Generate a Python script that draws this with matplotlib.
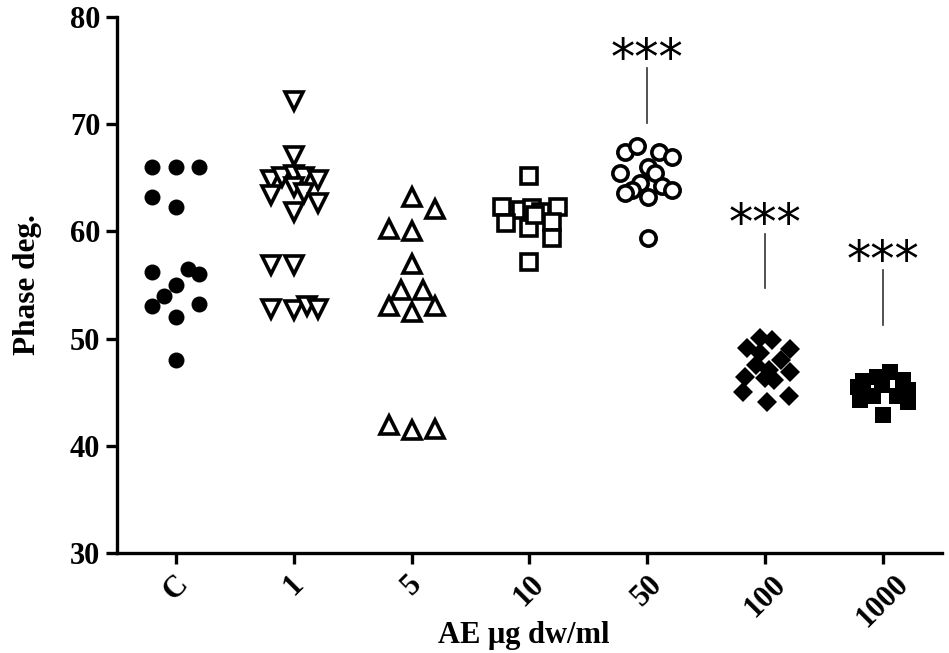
import matplotlib
matplotlib.use("Agg")
import matplotlib.pyplot as plt

categories = ["C", "1", "5", "10", "50", "100", "1000"]

# x offset (in category widths) and value for every dot
c_dx = [-0.2, 0.0, 0.2, -0.2, 0.0, -0.2, 0.1, 0.2, 0.0, -0.1, -0.2, 0.2, 0.0, 0.0]
c_val = [66.0, 66.0, 66.0, 63.2, 62.3, 56.2, 56.5, 56.0, 55.0, 54.0, 53.0, 53.2, 52.0, 48.0]

d1_dx = [0.0, 0.0, -0.19, -0.1, 0.0, 0.09, 0.21, -0.19, 0.0, 0.09, 0.21, 0.0,
         -0.19, 0.0, -0.19, 0.0, 0.11, 0.21]
d1_val = [72.2, 67.0, 64.8, 65.1, 65.3, 65.1, 64.8, 63.4, 64.1, 63.6, 62.6, 61.8,
          56.9, 56.9, 52.8, 52.7, 53.0, 52.8]

d5_dx = [0.0, 0.2, -0.19, 0.0, 0.0, -0.09, 0.1, -0.19, 0.0, 0.2, -0.19, 0.0, 0.2]
d5_val = [63.2, 62.1, 60.2, 60.0, 57.0, 54.5, 54.5, 53.0, 52.5, 53.0, 41.9, 41.5, 41.6]

d10_dx = [0.0, -0.23, -0.07, 0.02, 0.1, 0.24, -0.2, 0.0, 0.19, 0.19, 0.0, 0.05]
d10_val = [65.2, 62.3, 62.0, 62.2, 61.8, 62.3, 60.8, 60.3, 60.9, 59.4, 57.1, 61.5]

d50_dx = [-0.19, -0.09, 0.1, 0.21, 0.01, -0.23, 0.07, -0.06, -0.13, -0.19, 0.13,
          0.21, 0.01, 0.01]
d50_val = [67.4, 68.0, 67.4, 66.9, 66.0, 65.4, 65.4, 64.5, 63.9, 63.6, 64.2, 63.9,
           63.2, 59.4]

d100_dx = [-0.04, -0.15, 0.06, 0.21, -0.04, 0.14, -0.08, 0.03, 0.21, -0.17, 0.0,
           0.08, -0.19, 0.2, 0.02]
d100_val = [50.1, 49.1, 49.9, 49.0, 48.7, 48.0, 47.5, 47.1, 46.9, 46.4, 46.3, 46.1,
            45.0, 44.6, 44.1]

d1000_dx = [0.06, -0.05, 0.17, -0.17, -0.21, -0.01, 0.21, -0.19, -0.08, 0.12, 0.21, 0.0]
d1000_val = [46.9, 46.4, 46.1, 46.0, 45.5, 45.7, 45.2, 44.3, 44.6, 44.6, 44.1, 42.9]

offsets = [c_dx, d1_dx, d5_dx, d10_dx, d50_dx, d100_dx, d1000_dx]
values = [c_val, d1_val, d5_val, d10_val, d50_val, d100_val, d1000_val]

# significance marks: category index, line bottom, line top
sig_idx = [4, 5, 6]
sig_low = [70.1, 54.7, 51.3]
sig_high = [75.2, 59.8, 56.4]

styles = [
    dict(marker="o", ms=11.5, mfc="black", mec="black", mew=0),
    dict(marker="v", ms=13.5, mfc="white", mec="black", mew=2.6),
    dict(marker="^", ms=13.5, mfc="white", mec="black", mew=2.6),
    dict(marker="s", ms=11, mfc="white", mec="black", mew=2.6),
    dict(marker="o", ms=11, mfc="white", mec="black", mew=2.6),
    dict(marker="D", ms=10.5, mfc="black", mec="black", mew=0),
    dict(marker="s", ms=11.5, mfc="black", mec="black", mew=0),
]

serif = ["Liberation Serif", "DejaVu Serif"]

fig = plt.figure(figsize=(9.49, 6.53), dpi=100)
ax = fig.add_axes([0.1233, 0.1531, 0.869, 0.821])

for i, (dx, vals) in enumerate(zip(offsets, values)):
    xs = [i + d for d in dx]
    ax.plot(xs, vals, linestyle="none", **styles[i])

for i, lo, hi in zip(sig_idx, sig_low, sig_high):
    ax.plot([i, i], [lo, hi], color="#333333", lw=1.2)
    ax.annotate("***", xy=(i, hi), xytext=(0, -4), textcoords="offset points",
                ha="center", va="baseline", fontsize=35, family="DejaVu Sans")

ax.set_xlim(-0.5, 6.5)
ax.set_ylim(30, 80)
ax.set_yticks([30, 40, 50, 60, 70, 80])
ax.set_xticks(range(len(categories)))
ax.set_xticklabels(categories, rotation=45, ha="center", va="top")

for side in ["top", "right"]:
    ax.spines[side].set_visible(False)
for side in ["left", "bottom"]:
    ax.spines[side].set_linewidth(2.4)

ax.tick_params(axis="both", direction="out", length=8, width=2.4, pad=4)
for lab in ax.get_yticklabels() + ax.get_xticklabels():
    lab.set_family(serif)
    lab.set_fontweight("bold")
for lab in ax.get_yticklabels():
    lab.set_fontsize(22)
for lab in ax.get_xticklabels():
    lab.set_fontsize(22)

ax.set_ylabel("Phase deg.", family=serif, fontweight="bold", fontsize=22.5, labelpad=20)
# x label placed by hand so it sits just inside the bottom edge
fig.text(0.552, 0.016, "AE μg dw/ml", family=serif, fontweight="bold", fontsize=22,
         ha="center", va="baseline")

fig.savefig("out.png", dpi=100)
